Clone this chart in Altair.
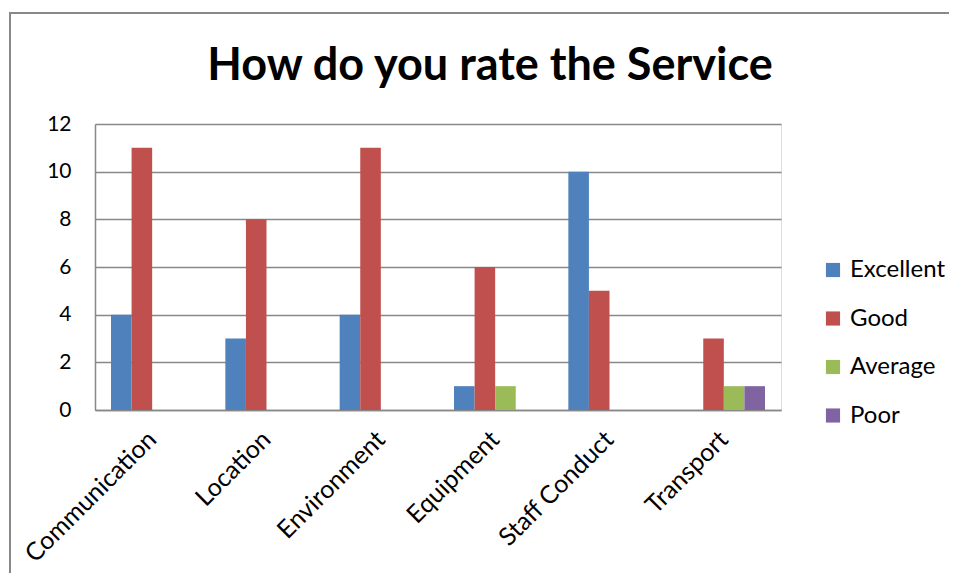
import altair as alt
import pandas as pd

categories = ["Communication", "Location", "Environment", "Equipment", "Staff Conduct", "Transport"]
series = ["Excellent", "Good", "Average", "Poor"]
excellent = [4, 3, 4, 1, 10, 0]
good = [11, 8, 11, 6, 5, 3]
average = [0, 0, 0, 1, 0, 1]
poor = [0, 0, 0, 0, 0, 1]
colors = ["#4F81BD", "#C0504D", "#9BBB59", "#8064A2"]
y_ticks = [0, 2, 4, 6, 8, 10, 12]
title_text = "How do you rate the Service"

rows = []
for s, vals in zip(series, [excellent, good, average, poor]):
    for c, v in zip(categories, vals):
        rows.append({"Category": c, "Series": s, "Value": v})
df = pd.DataFrame(rows)

FONT = "Lato"
W, H = 686, 286

bars = alt.Chart(df).mark_bar().encode(
    x=alt.X("Category:N", sort=categories, title=None,
            scale=alt.Scale(paddingInner=0.28, paddingOuter=0.14),
            axis=alt.Axis(labelAngle=-45, labelAlign="right", labelBaseline="middle",
                          labelFontSize=25, labelColor="#000000", labelFont=FONT,
                          labelPadding=25, ticks=False, domainColor="#888888",
                          domainWidth=1.5, grid=False)),
    xOffset=alt.XOffset("Series:N", sort=series, scale=alt.Scale(paddingInner=0, paddingOuter=0)),
    y=alt.Y("Value:Q", title=None, scale=alt.Scale(domain=[0, 12], nice=False),
            axis=alt.Axis(values=y_ticks, labelFontSize=21, labelColor="#000000",
                          labelFont=FONT, labelPadding=24, ticks=False,
                          domainColor="#888888", domainWidth=1.5,
                          gridColor="#888888", gridWidth=1.5)),
    color=alt.Color("Series:N", sort=series, scale=alt.Scale(domain=series, range=colors),
                    legend=alt.Legend(title=None, orient="none", legendX=726, legendY=134,
                                      symbolType="square", symbolSize=200,
                                      symbolStrokeWidth=0, labelFontSize=24,
                                      labelFont=FONT, labelColor="#000000",
                                      rowPadding=24.5, labelOffset=5)),
)

frame = alt.Chart(pd.DataFrame({"a": [0]})).mark_rect(
    fill=None, stroke="#888888", strokeWidth=2
).encode(
    x=alt.value(-85), x2=alt.value(870), y=alt.value(-111), y2=alt.value(520)
)

title = alt.Chart(pd.DataFrame({"t": [title_text]})).mark_text(
    font=FONT, fontSize=45, fontWeight="bold", color="#000000",
    align="center", baseline="alphabetic"
).encode(text="t:N", x=alt.value(395), y=alt.value(-44))

chart = alt.layer(frame, bars, title).properties(
    width=W, height=H,
    autosize=alt.AutoSizeParams(type="none"),
    padding={"left": 87, "top": 116, "right": 168, "bottom": 163},
).configure_view(stroke=None).configure(background="#ffffff")

chart.save("out.html", embed_options={"renderer": "svg", "actions": False})
